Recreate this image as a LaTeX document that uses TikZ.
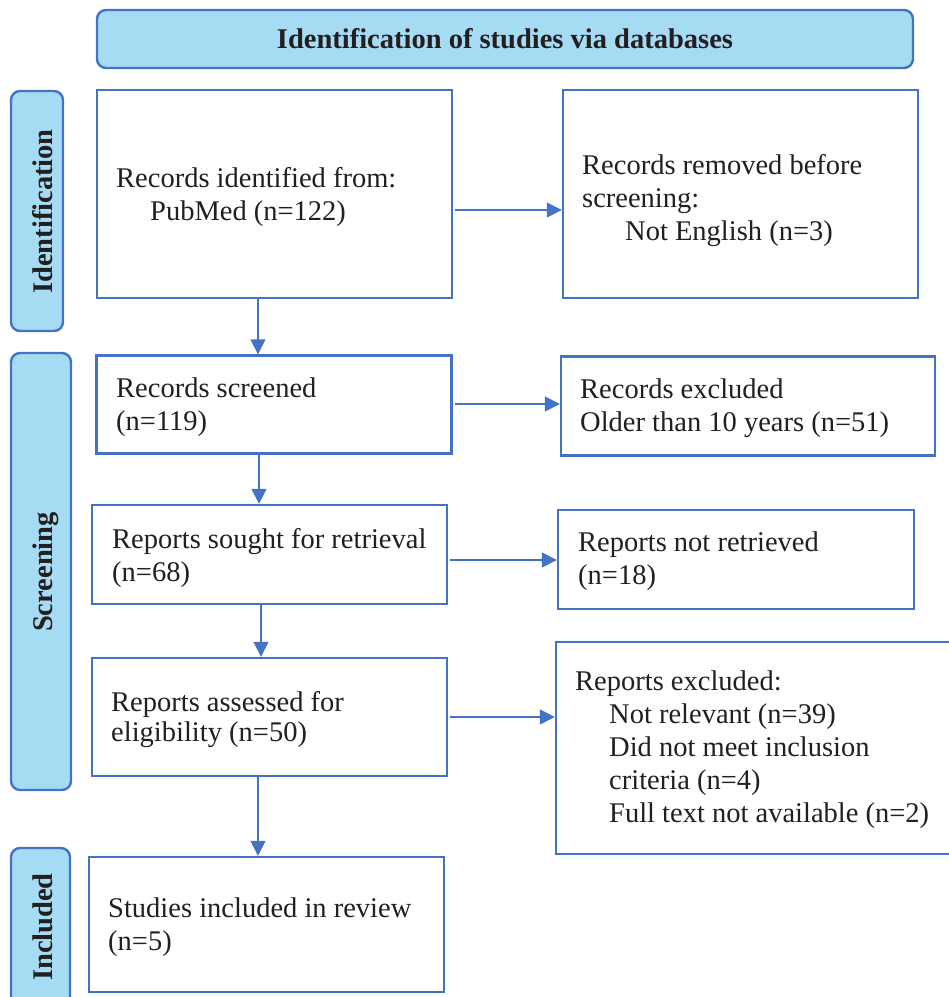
\documentclass[tikz,border=0pt]{standalone}
\usepackage{fontspec}
\setmainfont{Liberation Serif}
\usetikzlibrary{arrows.meta}
\definecolor{bord}{RGB}{68,114,196}
\definecolor{lblue}{RGB}{166,219,244}
\definecolor{ink}{RGB}{35,31,32}
\tikzset{
  box/.style={draw=bord, line width=2.4pt, fill=white, rectangle, inner sep=0pt},
  phase/.style={draw=bord, line width=2.4pt, fill=lblue, rectangle, rounded corners=9pt, inner sep=0pt},
  txt/.style={align=left, inner sep=0pt, anchor=west, text=ink, font=\fontsize{28.5}{33}\selectfont},
  lab/.style={inner sep=0pt, text=ink, font=\fontsize{28.5}{33}\selectfont\bfseries},
  arr/.style={draw=bord, line width=1.5pt, -{Triangle[length=15pt,width=15pt]}},
}
\begin{document}
\begin{tikzpicture}[x=1pt,y=-1pt]
\useasboundingbox (0,0) rectangle (949,997);
% banner
\node[phase, minimum width=816, minimum height=58, font=\fontsize{28.5}{33}\selectfont\bfseries, text=ink] (banner) at (505,39) {Identification of studies via databases};
% side phases
\node[phase, minimum width=52, minimum height=240] (pid) at (37,211) {};
\node[lab, rotate=90, anchor=base] (pidt) at (52,211.5) {Identification};
\node[phase, minimum width=60, minimum height=437] (pscr) at (41,571.5) {};
\node[lab, rotate=90, anchor=base] (pscrt) at (52,572) {Screening};
\node[phase, minimum width=59, minimum height=170] (pinc) at (40.5,933) {};
\node[lab, rotate=90, anchor=base] (pinct) at (52,927) {Included};
% boxes
\node[box, minimum width=355, minimum height=208] (recid) at (274.5,194) {};
\node[txt] (recidt) at (116,197) {Records identified from:\\\hspace*{34pt}PubMed (n=122)};
\node[box, minimum width=355, minimum height=208] (recrem) at (740.5,194) {};
\node[txt] (recremt) at (582,201) {Records removed before\\screening:\\\hspace*{43pt}Not English (n=3)};
\node[box, minimum width=355, minimum height=98] (scr) at (274,404.5) {};
\node[txt] (scrt) at (116,407) {Records screened\\(n=119)};
\node[box, minimum width=374, minimum height=99] (recex) at (748,406) {};
\node[txt] (recext) at (580,408.5) {Records excluded\\Older than 10 years (n=51)};
\node[box, minimum width=355, minimum height=99] (sought) at (269.5,554.5) {};
\node[txt] (soughtt) at (112,557.5) {Reports sought for retrieval\\(n=68)};
\node[box, minimum width=356, minimum height=99] (notret) at (736,559.5) {};
\node[txt] (notrett) at (578,561.5) {Reports not retrieved\\(n=18)};
\node[box, minimum width=355, minimum height=118] (assess) at (269.5,717) {};
\node[txt, font=\fontsize{28.5}{30.5}\selectfont] (assesst) at (111,719.5) {Reports assessed for\\eligibility (n=50)};
\node[box, minimum width=404, minimum height=212] (repex) at (758,748) {};
\node[txt] (repext) at (575,749.5) {Reports excluded:\\\hspace*{34pt}Not relevant (n=39)\\\hspace*{34pt}Did not meet inclusion\\\hspace*{34pt}criteria (n=4)\\\hspace*{34pt}Full text not available (n=2)};
\node[box, minimum width=355, minimum height=135] (incl) at (266.5,924.5) {};
\node[txt] (inclt) at (108,927) {Studies included in review\\(n=5)};
% connector guides
\coordinate (v1) at (258,0);
\coordinate (v2) at (259,0);
\coordinate (v3) at (261,0);
\coordinate (v4) at (258,0);
\coordinate (h1) at (0,210);
\coordinate (h2) at (0,404);
\coordinate (h3) at (0,560);
\coordinate (h4) at (0,717);
% vertical connectors
\draw[arr] (recid.south -| v1) -- (scr.north -| v1);
\draw[arr] (scr.south -| v2) -- (sought.north -| v2);
\draw[arr] (sought.south -| v3) -- (assess.north -| v3);
\draw[arr] (assess.south -| v4) -- (incl.north -| v4);
% horizontal connectors
\draw[arr, shorten <=2pt] (recid.east |- h1) -- (recrem.west |- h1);
\draw[arr, shorten <=2pt] (scr.east |- h2) -- (recex.west |- h2);
\draw[arr, shorten <=2pt] (sought.east |- h3) -- (notret.west |- h3);
\draw[arr, shorten <=2pt] (assess.east |- h4) -- (repex.west |- h4);
\end{tikzpicture}
\end{document}
